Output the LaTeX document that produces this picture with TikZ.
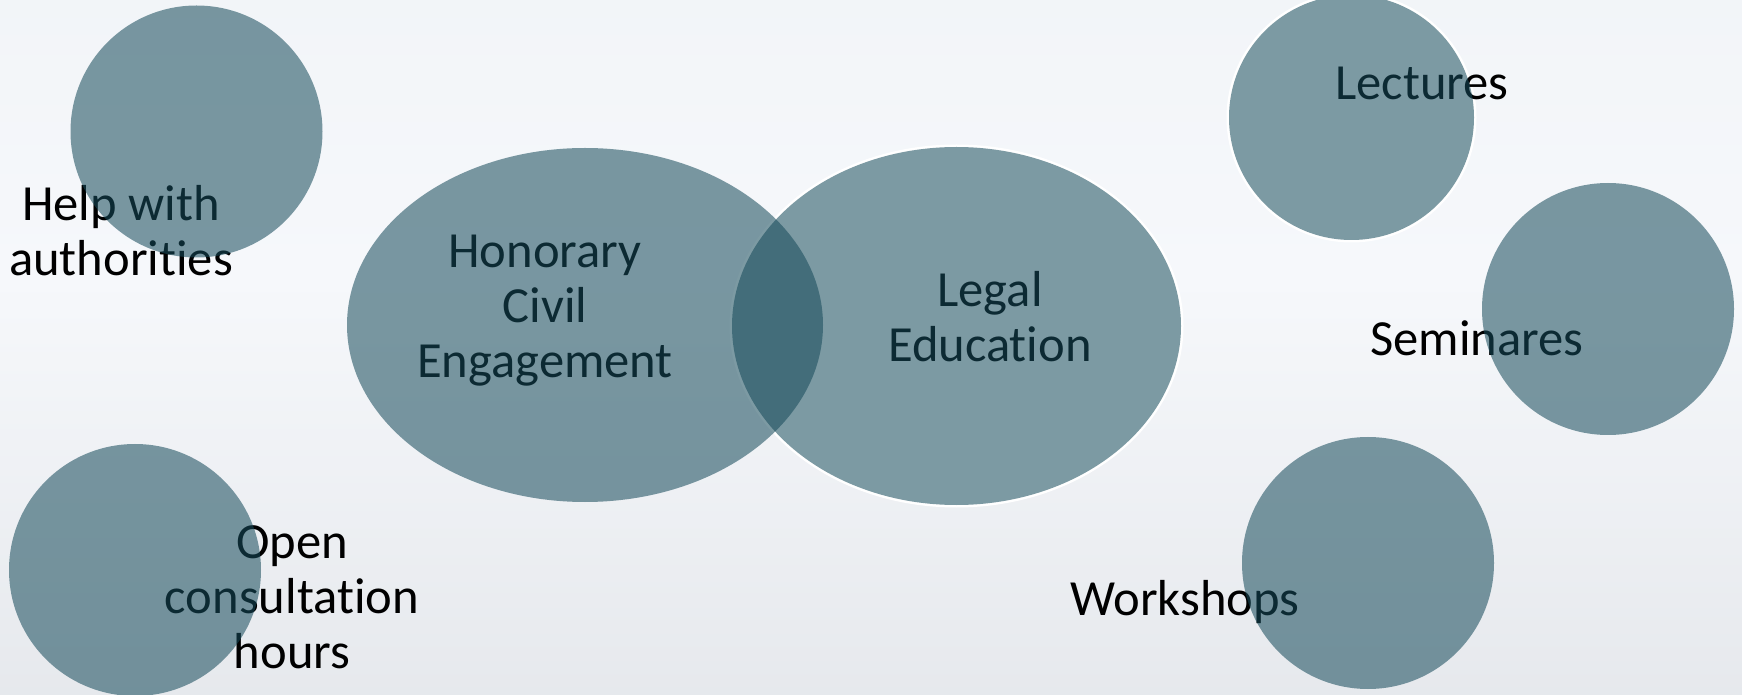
\documentclass[tikz,border=0pt]{standalone}
\usepackage{fontspec}
\setmainfont{Carlito}[Ligatures=NoCommon]
\usetikzlibrary{shapes.geometric}
\definecolor{bub}{RGB}{23,75,91}
\definecolor{bgtop}{RGB}{237,241,245}
\definecolor{bgmid}{RGB}{246,248,251}
\definecolor{bgbot}{RGB}{217,220,225}
\pgfdeclareverticalshading{bgshade}{100bp}{color(0bp)=(bgbot); color(55bp)=(bgmid); color(100bp)=(bgtop)}
\begin{document}
\begin{tikzpicture}[x=0.5pt,y=-0.5pt,
  lbl/.style={font=\fontsize{25.3pt}{27.5pt}\selectfont, align=center, anchor=base, inner sep=0pt, text=black},
  bubble/.style={circle, fill=bub, fill opacity=0.56, inner sep=0pt, minimum size=126pt},
  oval/.style={ellipse, fill=bub, fill opacity=0.56, inner sep=0pt},
  rimshape/.style={fill=white, inner sep=0pt}]
\shade[shading=bgshade] (0,0) rectangle (1742,695);
\useasboundingbox (0,0) rectangle (1742,695);
% white rims
\node[rimshape, ellipse, minimum width=227pt, minimum height=181.5pt] (rimlegal) at (956.5,326) {};
\node[rimshape, circle, minimum size=125pt] (rimlect) at (1351.5,117.5) {};
% labels (under the translucent shapes); base = last line
\node[lbl] (thelp) at (121,276) {Help with\\authorities};
\node[lbl] (thce) at (545,378) {Honorary\\Civil\\Engagement};
\node[lbl] (tlegal) at (990,362) {Legal\\Education};
\node[lbl] (tlect) at (1422,100) {Lectures};
\node[lbl] (tsem) at (1477,356) {Seminares};
\node[lbl] (twork) at (1185,615) {Workshops};
\node[lbl] (topen) at (292,668) {Open\\consultation\\hours};
% shapes
\node[oval, minimum width=224.5pt, minimum height=179pt] (legal) at (956.5,326) {};
\node[oval, minimum width=238pt, minimum height=177pt] (hce) at (585,325) {};
\node[bubble] (help) at (196.5,131.5) {};
\node[bubble, minimum size=122.5pt] (lect) at (1351.5,117.5) {};
\node[bubble] (sem) at (1608,309) {};
\node[bubble] (work) at (1368,563) {};
\node[bubble] (open) at (135,570) {};
\end{tikzpicture}
\end{document}
